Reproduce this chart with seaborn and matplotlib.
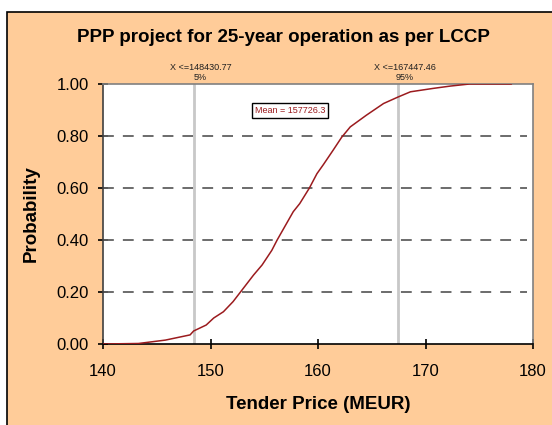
import matplotlib
matplotlib.use("Agg")
import matplotlib.pyplot as plt
import seaborn as sns
import pandas as pd
from matplotlib.patches import Rectangle

# ---- data ----
price = [140.0, 143.3, 145.8, 148.1, 148.43, 149.6, 150.3, 151.2, 152.1, 153.05, 154.0,
         154.8, 155.7, 156.2, 157.7, 158.3, 159.2, 159.9, 160.5, 161.4, 162.2, 163.0,
         164.5, 166.1, 167.45, 168.6, 170.7, 172.3, 174.1, 178.0]
prob = [0.0, 0.002, 0.015, 0.035, 0.05, 0.073, 0.10, 0.124, 0.163, 0.214, 0.265,
        0.304, 0.36, 0.40, 0.509, 0.54, 0.60, 0.655, 0.69, 0.745, 0.795, 0.835,
        0.88, 0.925, 0.95, 0.97, 0.983, 0.992, 1.0, 1.0]
x_ticks = [140, 150, 160, 170, 180]
y_ticks = [0.0, 0.2, 0.4, 0.6, 0.8, 1.0]
pct_lines = [148.43077, 167.44746]
pct_top = ["X <=148430.77", "X <=167447.46"]
pct_bot = ["5%", "95%"]
mean_text = "Mean = 157726.3"
title = "PPP project for 25-year operation as per LCCP"
xlabel = "Tender Price (MEUR)"
ylabel = "Probability"

df = pd.DataFrame({"price": price, "prob": prob})

sns.set_theme(style="ticks")
plt.rcParams["font.family"] = ["Liberation Sans", "DejaVu Sans"]

W, H = 552, 425
fig = plt.figure(figsize=(W / 100, H / 100), dpi=100)
fig.patch.set_facecolor("white")
# orange chart area with black frame (clipped right/bottom)
fig.patches.append(Rectangle((6.5 / W, -0.05), 1.2, (H - 11.5) / H + 0.05,
                             transform=fig.transFigure, facecolor="#FFCC99",
                             edgecolor="black", linewidth=1.2, zorder=-10))

ax = fig.add_axes([103 / W, (H - 344) / H, 430 / W, 260 / H])
ax.set_zorder(1)
ax.set_facecolor("white")

for yv in y_ticks[1:-1]:
    ax.axhline(yv, xmin=0, xmax=0.985, color="#606060", linewidth=1.3,
               dashes=(6, 5), zorder=1)
for xv in pct_lines:
    ax.axvline(xv, color="#C8C8C8", linewidth=2, zorder=2)

sns.lineplot(data=df, x="price", y="prob", ax=ax, color="#9B1B1E",
             linewidth=1.1, zorder=3)

ax.set_xlim(140, 180)
ax.set_ylim(0, 1.0)
ax.set_xticks(x_ticks)
ax.set_yticks(y_ticks)
ax.set_xticklabels([str(v) for v in x_ticks], fontsize=12)
ax.set_yticklabels([f"{v:.2f}" for v in y_ticks], fontsize=12)
ax.tick_params(axis="both", which="major", direction="inout", length=7, width=1.2,
               color="#000000", labelcolor="black", bottom=True, left=True,
               top=False, right=False)
ax.tick_params(axis="x", pad=11)
ax.tick_params(axis="y", pad=6.5)
for t in ax.xaxis.get_major_ticks() + ax.yaxis.get_major_ticks():
    t.tick1line.set_zorder(5)
    t.tick1line.set_clip_on(False)

ax.set_xlabel(xlabel, fontsize=13.5, fontweight="bold", color="black")
ax.set_ylabel(ylabel, fontsize=13.5, fontweight="bold", color="black")
ax.xaxis.label.set_va("baseline")
ax.xaxis.set_label_coords(318 / W, 1 - 409 / H, transform=fig.transFigure)
ax.yaxis.label.set_va("center")
ax.yaxis.set_label_coords(31.5 / W, 1 - 214 / H, transform=fig.transFigure)

for s in ["top", "right"]:
    ax.spines[s].set_color("#808080")
    ax.spines[s].set_linewidth(1.2)
ax.spines["left"].set_color("#404040")
ax.spines["bottom"].set_color("black")
ax.spines["left"].set_linewidth(1.2)
ax.spines["bottom"].set_linewidth(1.2)

for xv, t1, t2 in zip(pct_lines, pct_top, pct_bot):
    ax.annotate(t1, xy=(xv, 1.0), xycoords=("data", "axes fraction"),
                xytext=(5, 12.2), textcoords="offset points", ha="center",
                va="center", fontsize=6.5, color="#202020")
    ax.annotate(t2, xy=(xv, 1.0), xycoords=("data", "axes fraction"),
                xytext=(5, 4.6), textcoords="offset points", ha="center",
                va="center", fontsize=6.5, color="#202020")

ax.text((290 - 103) / 430, (344 - 110.7) / 260, mean_text, transform=ax.transAxes,
        ha="center", va="center", fontsize=6.5, color="#9B1B1E",
        bbox=dict(boxstyle="square,pad=0.35", facecolor="white",
                  edgecolor="black", linewidth=1))

fig.text(283 / W, 1 - 41.7 / H, title, ha="center", va="baseline", fontsize=13.5,
         fontweight="bold", color="black")

fig.savefig("out.png", dpi=100, facecolor=fig.get_facecolor())
